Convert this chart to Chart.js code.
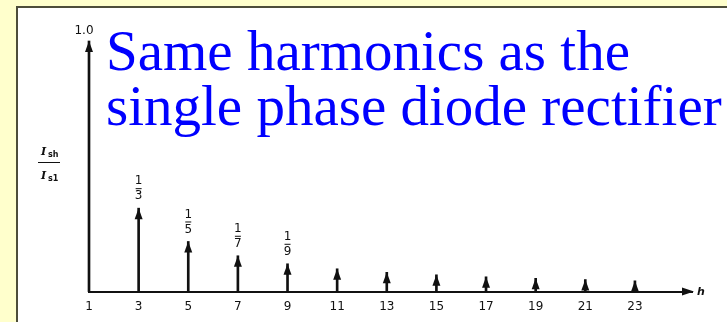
<!DOCTYPE html>
<html>
<head>
<meta charset="utf-8">
<script src="https://cdn.jsdelivr.net/npm/chart.js@4"></script>
<style>
  html, body { margin: 0; padding: 0; }
  body { width: 727px; height: 322px; background: #ffffcc; position: relative; overflow: hidden; }
  .panel {
    position: absolute; left: 16px; top: 6px; width: 760px; height: 360px;
    background: #fff; border-left: 2px solid #4d4d3a; border-top: 2px solid #4d4d3a;
  }
  .title {
    position: absolute; left: 106px; top: 23px;
    font-family: "Liberation Serif", serif; font-size: 57px; line-height: 55px;
    color: #0000ff; white-space: nowrap;
  }
  #wrap { position: absolute; left: 0; top: 0; width: 727px; height: 322px; }
</style>
</head>
<body>
<div class="panel"></div>
<div id="wrap"><canvas id="harmChart" width="727" height="322"></canvas></div>
<div class="title">Same harmonics as the<br>single phase diode rectifier</div>
<script>
// Armónicos impares y su magnitud relativa Ish/Is1
const harmonics = [1, 3, 5, 7, 9, 11, 13, 15, 17, 19, 21, 23];
const magnitudes = [1.0, 0.333, 0.2, 0.143, 0.111, 0.091, 0.077, 0.067, 0.059, 0.053, 0.048, 0.043];
const tickValues = [1, 3, 5, 7, 9, 11, 13, 15, 17, 19, 21, 23];
// Fracciones escritas sobre las primeras flechas
const fracHarmonics = [3, 5, 7, 9];
const fracDenominators = ['3', '5', '7', '9'];

const ink = '#111';

// Dibuja puntas de flecha, fracciones y rótulos de ejes
const arrowPlugin = {
    id: 'arrows',
    afterDatasetsDraw(chart) {
        const ctx = chart.ctx;
        const area = chart.chartArea;
        const meta = chart.getDatasetMeta(0);
        ctx.save();
        ctx.fillStyle = ink;
        ctx.strokeStyle = ink;

        const head = (x, y) => {
            ctx.beginPath();
            ctx.moveTo(x, y);
            ctx.lineTo(x - 4, y + 11);
            ctx.lineTo(x + 4, y + 11);
            ctx.closePath();
            ctx.fill();
        };
        meta.data.forEach(bar => head(bar.x, bar.y));

        // flecha del eje h
        const yb = area.bottom;
        ctx.beginPath();
        ctx.moveTo(area.right + 2, yb);
        ctx.lineTo(area.right - 10, yb - 4);
        ctx.lineTo(area.right - 10, yb + 4);
        ctx.closePath();
        ctx.fill();

        ctx.textAlign = 'center';
        ctx.textBaseline = 'middle';

        // fracciones 1/h
        ctx.font = '12px "DejaVu Sans"';
        fracHarmonics.forEach((h, i) => {
            const bar = meta.data[harmonics.indexOf(h)];
            const x = bar.x, top = bar.y;
            ctx.fillText('1', x, top - 27);
            ctx.fillRect(x - 3, top - 20, 6, 1);
            ctx.fillText(fracDenominators[i], x, top - 12);
        });

        // 1.0 sobre el eje vertical
        const first = meta.data[0];
        ctx.font = '12px "DejaVu Sans"';
        ctx.fillText('1.0', first.x - 5, first.y - 10);

        // h al final del eje
        ctx.font = 'italic bold 11px "DejaVu Sans"';
        ctx.fillText('h', area.right + 9, yb + 1);

        // Ish / Is1
        const lx = area.left - 42;
        const ly = area.top + 122;
        ctx.textAlign = 'left';
        ctx.font = 'italic bold 11px "DejaVu Serif"';
        ctx.fillText('I', lx - 6, ly - 11);
        ctx.fillText('I', lx - 6, ly + 13);
        ctx.font = 'bold 8px "DejaVu Sans"';
        ctx.fillText('sh', lx + 1, ly - 8);
        ctx.fillText('s1', lx + 1, ly + 16);
        ctx.fillRect(lx - 9, ly - 1, 22, 1);
        ctx.restore();
    }
};

const ctx = document.getElementById('harmChart').getContext('2d');
new Chart(ctx, {
    type: 'bar',
    data: {
        datasets: [{
            data: harmonics.map((h, i) => ({ x: h, y: magnitudes[i] })),
            backgroundColor: ink,
            barThickness: 2,
            clip: false
        }]
    },
    options: {
        responsive: false,
        animation: false,
        events: [],
        layout: { padding: { left: 89, right: 35, top: 41, bottom: 8 } },
        plugins: { legend: { display: false }, tooltip: { enabled: false } },
        scales: {
            x: {
                type: 'linear',
                min: 1,
                max: 25.3,
                offset: false,
                afterBuildTicks: scale => { scale.ticks = tickValues.map(v => ({ value: v })); },
                grid: { display: false },
                border: { display: true, color: ink, width: 2 },
                ticks: {
                    color: ink,
                    padding: 0,
                    maxRotation: 0,
                    autoSkip: false,
                    font: { family: 'DejaVu Sans', size: 12 }
                }
            },
            y: {
                display: false,
                min: 0,
                max: 1
            }
        }
    },
    plugins: [arrowPlugin]
});
</script>
</body>
</html>
